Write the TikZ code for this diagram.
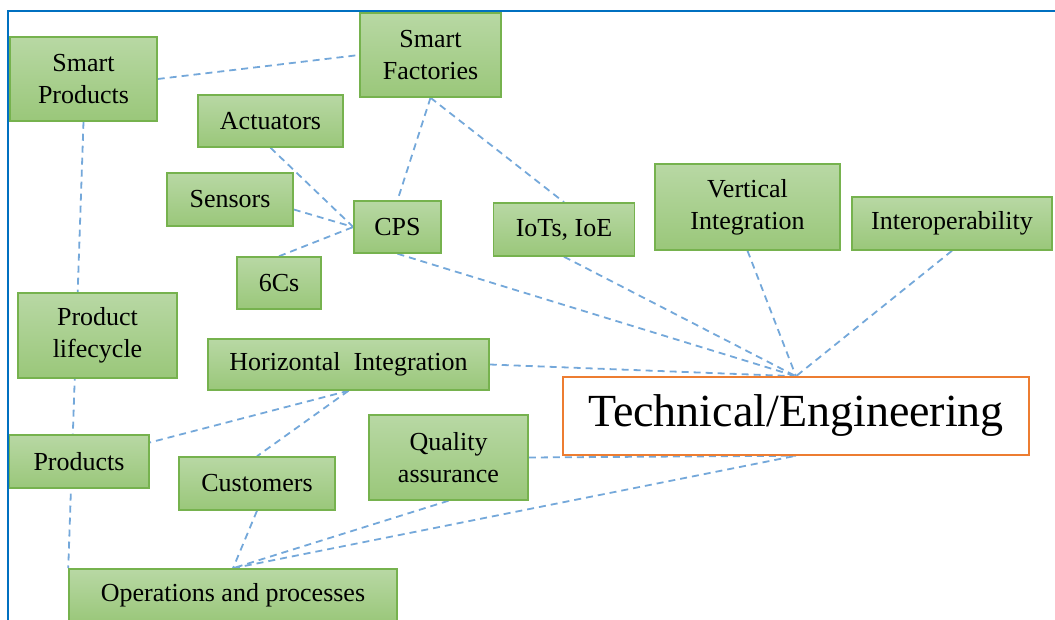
\documentclass[tikz,border=0pt]{standalone}
\usepackage{fontspec}
\setmainfont{Liberation Serif}
\usetikzlibrary{backgrounds}
\definecolor{boxtop}{RGB}{184,216,164}
\definecolor{boxbot}{RGB}{154,199,122}
\definecolor{boxedge}{RGB}{118,178,78}
\definecolor{linkblue}{RGB}{116,168,218}
\definecolor{frameblue}{RGB}{0,112,192}
\definecolor{techedge}{RGB}{237,125,49}
\tikzset{
  topic/.style={draw=boxedge, line width=1.5pt, top color=boxtop, bottom color=boxbot,
    inner sep=0pt, align=center, text=black, font=\fontsize{26}{32}\selectfont},
  link/.style={draw=linkblue, line width=1.8pt, dash pattern=on 7pt off 5pt},
}
\begin{document}
\begin{tikzpicture}[x=1pt,y=-1pt]
\useasboundingbox (0,0) rectangle (1055,620);

% topic boxes
\node[topic, minimum width=147pt, minimum height=84pt] (sp)   at (83.5,79)    {Smart\\Products};
\node[topic, minimum width=141pt, minimum height=84pt] (sf)   at (430.5,55)   {Smart\\Factories};
\node[topic, minimum width=145pt, minimum height=52pt] (act)  at (270.5,121)  {Actuators};
\node[topic, minimum width=126pt, minimum height=53pt] (sen)  at (230,199.5)  {Sensors};
\node[topic, minimum width=87pt,  minimum height=52pt] (cps)  at (397.5,227)  {CPS};
\node[topic, minimum width=84pt,  minimum height=52pt] (six)  at (279,283)    {6Cs};
\node[topic, minimum width=141pt, minimum height=53pt] (iot)  at (564,229.5)  {IoTs, IoE};
\node[topic, minimum width=185pt, minimum height=86pt] (vi)   at (747.5,207)  {Vertical\\Integration};
\node[topic, minimum width=200pt, minimum height=53pt] (io)   at (952,223.5)  {Interoperability};
\node[topic, minimum width=159pt, minimum height=85pt] (pl)   at (97.5,335.5) {Product\\lifecycle};
\node[topic, minimum width=281pt, minimum height=51pt] (hi)   at (348.5,364.5){Horizontal~ Integration};
\node[topic, minimum width=140pt, minimum height=53pt] (prod) at (79,461.5)   {Products};
\node[topic, minimum width=156pt, minimum height=53pt] (cust) at (257,483.5)  {Customers};
\node[topic, minimum width=159pt, minimum height=85pt] (qa)   at (448.5,457.5){Quality\\assurance};
\node[topic, minimum width=328pt, minimum height=53pt] (ops)  at (233,595.5)  {Operations and processes};

% central theme
\node[draw=techedge, line width=1.5pt, fill=white, inner sep=0pt,
      minimum width=466pt, minimum height=78pt, font=\fontsize{46}{50}\selectfont]
      (tech) at (796,416) {Technical/Engineering};

% dashed links behind the boxes
\begin{scope}[on background layer]
\draw[link] (sp.east) -- (sf.west);
\draw[link] (sp.south) -- (ops.north west);
\draw[link] (sf.south) -- (cps.north);
\draw[link] (sf.south) -- (iot.north);
\draw[link] (act.south) -- (cps.west);
\draw[link] ([yshift=-10pt]sen.east) -- (cps.west);
\draw[link] (six.north) -- (cps.west);
\draw[link] (cps.south) -- (tech.north);
\draw[link] (iot.south) -- (tech.north);
\draw[link] (vi.south) -- (tech.north);
\draw[link] (io.south) -- (tech.north);
\draw[link] (hi.east) -- (tech.north);
\draw[link] (hi.south) -- ([yshift=19pt]prod.east);
\draw[link] (hi.south) -- (cust.north);
\draw[link] (qa.east) -- (tech.south);
\draw[link] (qa.south) -- (ops.north);
\draw[link] (cust.south) -- (ops.north);
\draw[link] (ops.north) -- (tech.south);
\end{scope}

% frame
\draw[frameblue, line width=2pt] (8,620) -- (8,11) -- (1055,11);
\end{tikzpicture}
\end{document}
